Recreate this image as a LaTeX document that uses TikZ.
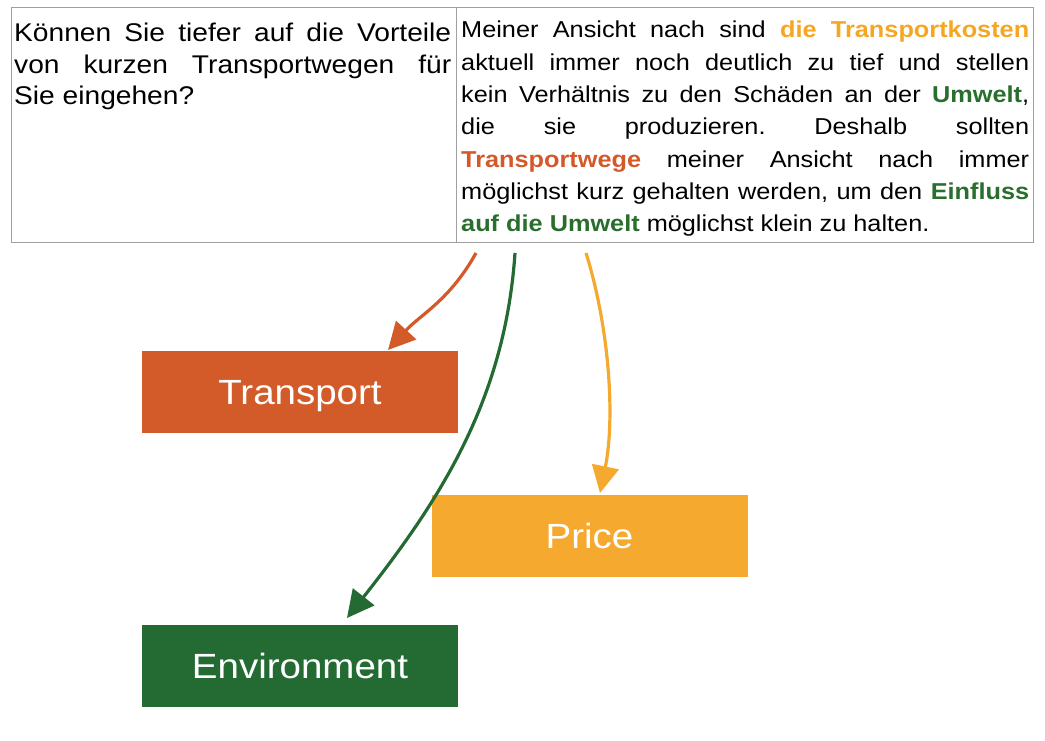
\documentclass[tikz,border=0pt]{standalone}
\usepackage{fontspec}
\setmainfont[FakeStretch=1.1]{Liberation Sans}
\usetikzlibrary{arrows.meta}
\frenchspacing
\definecolor{tborder}{HTML}{A0A0A0}
\definecolor{corange}{HTML}{D35B29}
\definecolor{cyellow}{HTML}{F5A92E}
\definecolor{cgreen}{HTML}{246B33}
\definecolor{tyellow}{HTML}{F5A623}
\definecolor{torange}{HTML}{D4592A}
\definecolor{tgreen}{HTML}{2A6E2E}
\tikzset{
  txt/.style={anchor=base west, inner sep=0pt, font=\fontsize{23}{32}\selectfont},
  qtxt/.style={anchor=base west, inner sep=0pt, font=\fontsize{25.6}{32}\selectfont},
  catbox/.style={minimum width=316pt, minimum height=82pt, inner sep=0pt, text=white,
    text height=25pt, text depth=0pt, font=\fontsize{35}{40}\selectfont},
  conn/.style={line width=3.2pt, -{Triangle[length=27pt,width=27pt]}},
}
\newcommand{\jl}[1]{\makebox[568pt][s]{#1}}
\newcommand{\jq}[1]{\makebox[437pt][s]{#1}}
\newcommand{\ty}[1]{\textcolor{tyellow}{\bfseries #1}}
\newcommand{\tor}[1]{\textcolor{torange}{\bfseries #1}}
\newcommand{\tg}[1]{\textcolor{tgreen}{\bfseries #1}}
\begin{document}
\begin{tikzpicture}[x=1pt,y=-1pt]
\useasboundingbox (0,0) rectangle (1045,741);
% table
\draw[tborder, line width=1pt] (11,8) rectangle (1033,242);
\draw[tborder, line width=1pt] (456,8) -- (456,242);
% question
\node[qtxt] (q1) at (14,41.7) {\jq{Können Sie tiefer auf die Vorteile}};
\node[qtxt] (q2) at (14,73.3) {\jq{von kurzen Transportwegen für}};
\node[qtxt] (q3) at (14,104.8) {Sie eingehen?};
% answer
\node[txt] (l1) at (461,38) {\jl{Meiner Ansicht nach sind \ty{die Transportkosten}}};
\node[txt] (l2) at (461,70.3) {\jl{aktuell immer noch deutlich zu tief und stellen}};
\node[txt] (l3) at (461,102.6) {\jl{kein Verhältnis zu den Schäden an der \tg{Umwelt},}};
\node[txt] (l4) at (461,134.9) {\jl{die sie produzieren. Deshalb sollten}};
\node[txt] (l5) at (461,167.2) {\jl{\tor{Transportwege} meiner Ansicht nach immer}};
\node[txt] (l6) at (461,199.5) {\jl{möglichst kurz gehalten werden, um den \tg{Einfluss}}};
\node[txt] (l7) at (461,231.8) {\tg{auf die Umwelt} möglichst klein zu halten.};
% boxes
\node[catbox, fill=corange] (tr) at (300,392) {Transport};
\node[catbox, fill=cyellow] (pr) at (589.5,536) {Price};
\node[catbox, fill=cgreen] (en) at (300,666) {Environment};
% connector endpoints
\coordinate (so) at (476,253);
\coordinate (sg) at (515,253);
\coordinate (sy) at (586,253);
\coordinate (eo) at (388,350);
\coordinate (ey) at (600,493);
\coordinate (eg) at (347,618);
\draw[conn, corange] (so) .. controls (450,300) and (420,315) .. (eo);
\draw[conn, cyellow] (sy) .. controls (610,330) and (615,420) .. (ey);
\draw[conn, cgreen] (sg) .. controls (505,400) and (440,500) .. (eg);
\end{tikzpicture}
\end{document}
